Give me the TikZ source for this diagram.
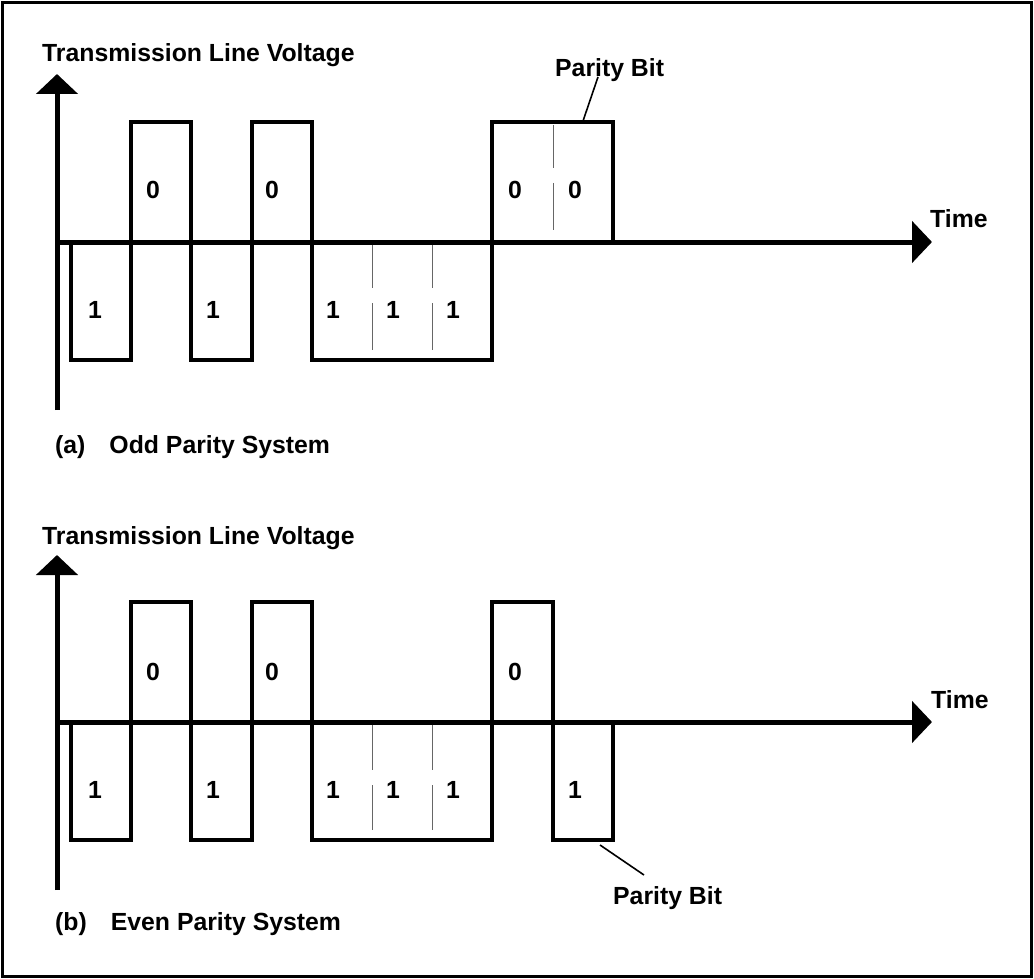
\documentclass[tikz,border=0pt]{standalone}
\usepackage{fontspec}
\setmainfont{Liberation Sans}
\usetikzlibrary{arrows.meta, positioning}
\tikzset{
  axis/.style={line width=5pt, -{Triangle[length=20pt, width=41pt]}},
  wave/.style={line width=4pt, line join=miter},
  divider/.style={line width=1pt, black!60},
  leader/.style={line width=1.6pt},
  txt/.style={font=\bfseries\fontsize{24.8}{28}\selectfont, inner sep=0pt},
  bit/.style={txt, anchor=center},
}

\begin{document}
\begin{tikzpicture}[x=1pt, y=-1pt]
    \useasboundingbox (0,0) rectangle (1034,979);
    \draw[line width=3pt] (2.5,2.5) rectangle (1031,976);

    % (a) odd parity
    \coordinate (va0) at (57,410);
    \coordinate (va1) at (57,74);
    \coordinate (ha0) at (55,242);
    \coordinate (ha1) at (932,242);
    \draw[axis] (va0) -- (va1);
    \draw[axis] (ha0) -- (ha1);
    \node[txt, anchor=base west] (ylabA) at (42,62) {Transmission Line Voltage};
    \node[txt, anchor=base west] (timeA) at (930,227) {Time};
    \draw[wave] (71,242) -- (71,360) -- (131,360) -- (131,122) -- (191,122) -- (191,360)
      -- (252,360) -- (252,122) -- (312,122) -- (312,360) -- (492,360) -- (492,122)
      -- (613,122) -- (613,242);
    \draw[divider] (372,245) -- (372,288) (372,303) -- (372,350);
    \draw[divider] (432,245) -- (432,288) (432,303) -- (432,350);
    \draw[divider] (553,125) -- (553,168) (553,183) -- (553,230);
    \node[bit] (a1) at (95,310) {1};
    \node[bit] (a2) at (153,190) {0};
    \node[bit] (a3) at (213,310) {1};
    \node[bit] (a4) at (272,190) {0};
    \node[bit] (a5) at (333,310) {1};
    \node[bit] (a6) at (393,310) {1};
    \node[bit] (a7) at (453,310) {1};
    \node[bit] (a8) at (515,190) {0};
    \node[bit] (a9) at (575,190) {0};
    \node[txt, anchor=base west] (parA) at (555,77) {Parity Bit};
    \coordinate (pa0) at (583,121);
    \coordinate (pa1) at (598,77);
    \draw[leader] (pa0) -- (pa1);
    \node[txt, anchor=base west] (capA) at (55,453) {(a)\hspace{24pt}Odd Parity System};

    % (b) even parity
    \coordinate (vb0) at (57,890);
    \coordinate (vb1) at (57,555);
    \coordinate (hb0) at (55,722);
    \coordinate (hb1) at (932,722);
    \draw[axis] (vb0) -- (vb1);
    \draw[axis] (hb0) -- (hb1);
    \node[txt, anchor=base west] (ylabB) at (42,544) {Transmission Line Voltage};
    \node[txt, anchor=base west] (timeB) at (931,708) {Time};
    \draw[wave] (71,722) -- (71,840) -- (131,840) -- (131,602) -- (191,602) -- (191,840)
      -- (252,840) -- (252,602) -- (312,602) -- (312,840) -- (492,840) -- (492,602)
      -- (553,602) -- (553,840) -- (613,840) -- (613,722);
    \draw[divider] (372,725) -- (372,770) (372,785) -- (372,830);
    \draw[divider] (432,725) -- (432,770) (432,785) -- (432,830);
    \node[bit] (b1) at (95,790) {1};
    \node[bit] (b2) at (153,672) {0};
    \node[bit] (b3) at (213,790) {1};
    \node[bit] (b4) at (272,672) {0};
    \node[bit] (b5) at (333,790) {1};
    \node[bit] (b6) at (393,790) {1};
    \node[bit] (b7) at (453,790) {1};
    \node[bit] (b8) at (515,672) {0};
    \node[bit] (b9) at (575,790) {1};
    \node[txt, anchor=base west] (parB) at (613,904) {Parity Bit};
    \coordinate (pb0) at (600,845);
    \coordinate (pb1) at (644,875);
    \draw[leader] (pb0) -- (pb1);
    \node[txt, anchor=base west] (capB) at (55,930) {(b)\hspace{24pt}Even Parity System};
  \end{tikzpicture}
\end{document}
